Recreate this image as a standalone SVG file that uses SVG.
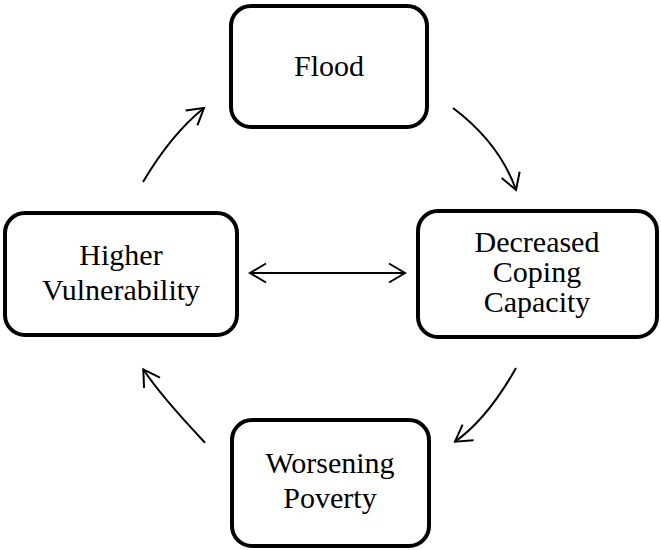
<svg xmlns="http://www.w3.org/2000/svg" width="661" height="550" viewBox="0 0 661 550">
<style>
.box{fill:#fff;stroke:#000;stroke-width:4}
.t{font-family:'Liberation Serif','Times New Roman',Times,serif;font-size:30px;fill:#000;text-anchor:middle}
.c{fill:none;stroke:#000;stroke-width:2}
</style>
<defs>
<marker id="ah" markerUnits="userSpaceOnUse" orient="auto-start-reverse" refX="0" refY="0" markerWidth="20" markerHeight="20" overflow="visible">
<path d="M-16,-9.5 L0,0 L-16,9.5" fill="none" stroke="#000" stroke-width="2"/>
</marker>
</defs>
<rect width="661" height="550" fill="#fff"/>
<g id="connectors">
<path class="c" d="M143,182 Q171.6,133.8 204,108" marker-end="url(#ah)"/>
<path class="c" d="M453,108 Q499.4,142.8 516,190" marker-end="url(#ah)"/>
<path class="c" d="M516,368 Q487.4,418.8 455,441.7" marker-end="url(#ah)"/>
<path class="c" d="M205,442.7 Q160,395 143.3,369.3" marker-end="url(#ah)"/>
<path class="c" d="M250,273 L405,273" marker-start="url(#ah)" marker-end="url(#ah)"/>
</g>
<g id="flood">
<rect class="box" x="231" y="6" width="196" height="121" rx="20"/>
<text class="t" x="329" y="76">Flood</text>
</g>
<g id="decreased">
<rect class="box" x="418" y="211" width="239" height="126" rx="20"/>
<text class="t" x="537" y="252">Decreased</text>
<text class="t" x="537" y="282">Coping</text>
<text class="t" x="537" y="312">Capacity</text>
</g>
<g id="higher">
<rect class="box" x="5" y="213" width="232" height="122" rx="20"/>
<text class="t" x="121" y="265">Higher</text>
<text class="t" x="121" y="300">Vulnerability</text>
</g>
<g id="worsening">
<rect class="box" x="232" y="420" width="197" height="126" rx="20"/>
<text class="t" x="330" y="473">Worsening</text>
<text class="t" x="330" y="508">Poverty</text>
</g>
</svg>
